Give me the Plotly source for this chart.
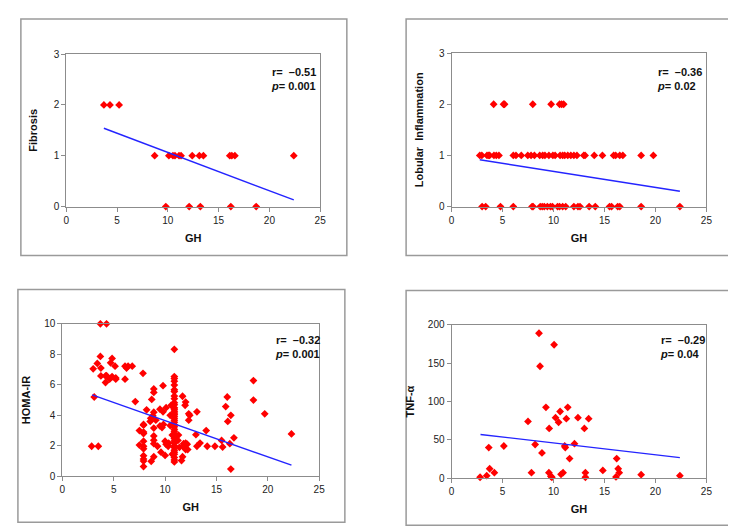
import plotly.graph_objects as go

W, H = 736, 530

# ---------------- data ----------------
fib_x = [3.7, 4.3, 5.2,
         8.7, 10.1, 10.5, 10.7, 11.1, 11.3, 12.4, 13.1, 13.5, 16.1, 16.3, 16.6, 22.4,
         9.8, 12.1, 13.2, 16.2, 18.7]
fib_y = [2, 2, 2,
         1, 1, 1, 1, 1, 1, 1, 1, 1, 1, 1, 1, 1,
         0, 0, 0, 0, 0]
fib_fit_x = [3.7, 22.4]
fib_fit_y = [1.54, 0.13]

lob_x = [4.13, 5.1, 5.2, 7.97, 9.77, 10.6, 10.8, 11.0,
         2.77, 2.97, 3.48, 3.65, 3.74, 4.16, 4.39, 4.65, 6.06, 6.32, 6.84, 7.48, 7.8, 8.13,
         8.65, 8.94, 9.16, 9.55, 9.94, 10.16, 10.65, 10.9, 11.1, 11.4, 11.7, 12.0, 12.3,
         12.97, 13.1, 14.0, 14.8, 15.9, 16.1, 16.5, 16.8, 18.6, 19.8,
         3.0, 3.35, 4.8, 6.06, 7.9, 8.0, 8.7, 8.9, 9.1, 9.4, 9.7, 9.9, 10.4, 10.6, 10.9,
         11.2, 12.0, 12.4, 12.6, 13.5, 14.1, 15.5, 15.7, 16.3, 16.5, 18.6, 22.4]
lob_y = [2] * 8 + [1] * 37 + [0] * 27
lob_fit_x = [2.77, 22.4]
lob_fit_y = [0.915, 0.30]

homa_x = [3.7, 4.3, 3.7, 3.0, 3.4, 3.75, 3.75, 4.2, 4.2, 4.3, 4.6, 4.7, 4.84, 4.84,
          5.13, 5.2, 5.2, 6.1, 6.25, 6.4, 6.8, 6.1, 3.1, 2.85, 3.5, 7.1, 7.85, 8.2,
          8.9, 8.9, 9.8, 7.5, 7.5, 7.9, 7.9, 7.9, 7.9, 7.9, 7.9, 7.9, 7.9, 7.9, 7.9, 7.9,
          8.6, 8.55, 8.7, 8.8, 8.9, 8.9, 8.9, 8.9, 8.9, 8.65, 8.9, 9.1, 9.26, 9.5, 9.5,
          9.8, 9.7, 9.84, 9.6, 10.0, 10.1, 10.0, 10.1, 10.3, 10.35, 10.5, 10.5, 10.6, 10.7,
          10.7, 11.25, 11.3, 11.4, 11.7, 11.7, 11.6, 11.8, 11.75, 11.95, 12.0, 12.0, 12.0,
          12.2, 12.15, 12.3, 12.3, 12.4, 13.0, 13.1, 13.1, 13.4, 14.0, 14.1, 14.85, 15.5,
          15.6, 15.9, 16.05, 16.1, 16.3, 16.4, 16.4, 16.7, 18.6, 18.6, 19.7, 22.3,
          10.9, 10.9, 10.9, 10.9, 10.9, 10.9, 10.9, 10.9, 10.9, 10.9, 10.9, 10.9, 10.9,
          10.9, 10.9, 10.9, 10.9, 10.9, 10.9, 10.9, 10.9, 10.9, 10.9, 10.9, 10.9, 10.9,
          10.9, 10.9, 10.9, 10.9, 10.9, 10.9, 10.9, 10.9, 10.9, 10.9, 10.9]
homa_y = [10.0, 10.0, 7.86, 7.05, 7.4, 7.1, 6.58, 6.58, 6.15, 6.6, 6.37, 7.44, 7.73, 6.54,
          7.22, 6.37, 6.45, 7.22, 7.1, 7.22, 7.22, 6.37, 5.2, 1.97, 1.97, 4.9, 6.75, 4.36,
          5.73, 5.5, 5.94, 3.0, 2.05, 3.4, 3.35, 2.9, 2.8, 2.3, 1.97, 1.8, 1.35, 1.13, 1.0, 0.64,
          3.8, 3.6, 5.04, 3.97, 4.2, 3.16, 2.65, 2.37, 2.14, 0.98, 1.28, 3.68, 1.97, 3.3, 4.4,
          4.23, 3.2, 3.4, 1.58, 2.3, 2.1, 1.37, 4.5, 1.97, 2.18, 3.33, 4.0, 4.66, 1.45,
          2.7, 2.35, 2.7, 1.9, 5.25, 1.28, 1.03, 2.14, 1.97, 4.66, 4.87, 2.18, 1.75,
          1.75, 2.1, 4.1, 3.68, 4.0, 2.73, 4.23, 1.97, 2.18, 3.0, 1.97, 1.97, 2.35,
          1.92, 4.57, 5.2, 3.6, 2.14, 4.0, 0.47, 2.52, 6.28, 5.0, 4.1, 2.78,
          8.33, 6.54, 6.41, 6.24, 5.98, 5.68, 5.56, 5.26, 5.09, 4.83, 4.70, 4.49, 4.40,
          4.27, 4.15, 4.06, 3.93, 3.80, 3.68, 3.55, 3.38, 3.25, 3.08, 2.95, 2.78, 2.61,
          2.48, 2.31, 2.18, 2.01, 1.88, 1.71, 1.58, 1.45, 1.24, 1.07, 0.94]
homa_fit_x = [2.9, 22.3]
homa_fit_y = [5.34, 0.73]

tnf_x = [8.58, 10.06, 8.68, 7.5, 9.26, 11.4, 10.65, 10.2, 12.4, 11.26, 13.45, 10.5,
         9.58, 13.03, 3.65, 5.13, 8.2, 11.1, 11.16, 12.06, 8.87, 11.58, 16.2, 3.74,
         4.2, 7.84, 9.55, 10.94, 10.74, 13.13, 14.84, 16.35, 16.45, 18.6, 22.4, 2.8,
         3.45, 9.74, 9.84, 13.13, 16.13]
tnf_y = [189, 174, 146, 74, 92.5, 92.5, 87, 79, 79, 77.6, 77.6, 73,
         65, 65, 40, 42, 44, 42, 40, 45, 33, 25.6, 25.6, 12.4,
         7.2, 7.2, 7.2, 7.2, 5.1, 7.2, 10.2, 12.4, 7.2, 4.7, 3.4, 1.3,
         3.4, 2.6, 1.3, 1.3, 1.7]
tnf_fit_x = [2.84, 22.4]
tnf_fit_y = [57.1, 26.9]

panels = [
    dict(x=fib_x, y=fib_y, fx=fib_fit_x, fy=fib_fit_y, ytitle="Fibrosis",
         yrange=[0, 3], dtick=1, r="–0.51", p="0.001",
         px=(56, 313), py=(41, 197), box=(10, 5, 340, 247), txt=(261, 67), ys=13),
    dict(x=lob_x, y=lob_y, fx=lob_fit_x, fy=lob_fit_y, ytitle="Lobular  Inflammation",
         yrange=[0, 3], dtick=1, r="–0.36", p="0.02",
         px=(446, 704), py=(40, 197), box=(400, 5, 731, 247), txt=(652, 67), ys=13),
    dict(x=homa_x, y=homa_y, fx=homa_fit_x, fy=homa_fit_y, ytitle="HOMA-IR",
         yrange=[0, 10], dtick=2, r="–0.32", p="0.001",
         px=(52, 312), py=(317, 473), box=(7, 282, 338, 520), txt=(265, 341), ys=11),
    dict(x=tnf_x, y=tnf_y, fx=tnf_fit_x, fy=tnf_fit_y, ytitle="TNF-α",
         yrange=[0, 200], dtick=50, r="–0.29", p="0.04",
         px=(446, 704), py=(318, 475), box=(400, 283, 731, 523), txt=(655, 341), ys=11),
]

fig = go.Figure()
shapes = []
annotations = []
axis_color = "#8c8c8c"
tick_font = dict(family="Liberation Sans, Arial, sans-serif", size=10, color="#222222")
title_font = dict(family="Liberation Sans, Arial, sans-serif", size=11, color="#111111")
txt_font = dict(family="Liberation Sans Narrow, Arial Narrow, Liberation Sans, Arial, sans-serif",
                size=11, color="#111111")

for i, pnl in enumerate(panels, start=1):
    xa = "x" if i == 1 else f"x{i}"
    ya = "y" if i == 1 else f"y{i}"
    fig.add_trace(go.Scatter(x=pnl["x"], y=pnl["y"], mode="markers", xaxis=xa, yaxis=ya,
                             marker=dict(symbol="diamond", size=6, color="#ff0000",
                                         line=dict(width=0)),
                             cliponaxis=False, showlegend=False, hoverinfo="skip"))
    fig.add_trace(go.Scatter(x=pnl["fx"], y=pnl["fy"], mode="lines", xaxis=xa, yaxis=ya,
                             line=dict(color="#2424ff", width=1.4),
                             showlegend=False, hoverinfo="skip"))
    x0, x1 = pnl["px"]
    y0, y1 = pnl["py"]
    common = dict(showline=True, linecolor=axis_color, linewidth=1, mirror=True,
                  ticks="outside", ticklen=4, tickcolor=axis_color, tickwidth=1,
                  showgrid=False, zeroline=False, tickfont=tick_font)
    fig.layout[f"xaxis{'' if i == 1 else i}"] = dict(
        domain=[x0 / W, x1 / W], anchor=ya, range=[0, 25], dtick=5,
        title=dict(text="<b>GH</b>", font=title_font, standoff=9), **common)
    fig.layout[f"yaxis{'' if i == 1 else i}"] = dict(
        domain=[1 - y1 / H, 1 - y0 / H], anchor=xa, range=pnl["yrange"], dtick=pnl["dtick"],
        title=dict(text=f"<b>{pnl['ytitle']}</b>", font=title_font, standoff=pnl["ys"]),
        **common)
    bx0, by0, bx1, by1 = pnl["box"]
    shapes.append(dict(type="rect", xref="paper", yref="paper",
                       x0=bx0 / W, x1=bx1 / W, y0=1 - by1 / H, y1=1 - by0 / H,
                       line=dict(color="#9a9a9a", width=1.5), fillcolor="rgba(0,0,0,0)"))
    tx, ty = pnl["txt"]
    annotations.append(dict(xref="paper", yref="paper", x=tx / W, y=1 - ty / H,
                            xanchor="left", yanchor="middle", align="left", showarrow=False,
                            text=f"<b>r=  {pnl['r']}</b><br><b><i>p</i>= {pnl['p']}</b>",
                            font=txt_font))

fig.update_layout(width=W, height=H, margin=dict(l=0, r=0, t=0, b=0),
                  paper_bgcolor="white", plot_bgcolor="white",
                  shapes=shapes, annotations=annotations)

fig.write_html("out.html")
